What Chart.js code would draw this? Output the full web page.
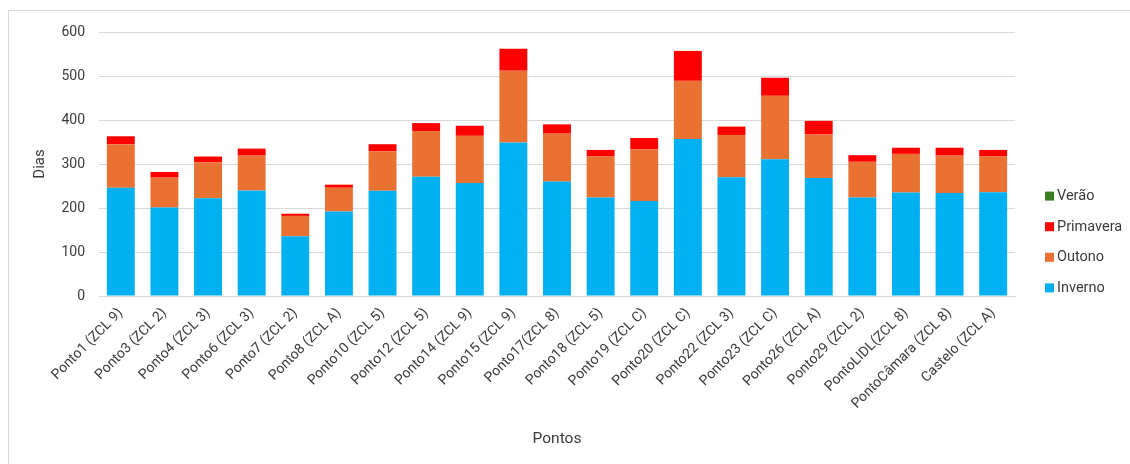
<!DOCTYPE html>
<html lang="pt">
<head>
<meta charset="utf-8">
<title>Dias por estação</title>
<script src="https://cdn.jsdelivr.net/npm/chart.js@4/dist/chart.umd.min.js"></script>
<style>
  html, body { margin: 0; padding: 0; background: #ffffff; overflow: hidden; }
  #wrap { position: relative; width: 1130px; height: 464px; overflow: hidden; }
  #frame { position: absolute; left: 8px; top: 10px; width: 1400px; height: 700px;
           border: 1px solid #d9d9d9; box-sizing: border-box; }
  #chart { position: absolute; left: 0; top: 0; }
</style>
</head>
<body>
<div id="wrap">
  <div id="frame"></div>
  <canvas id="chart" width="1130" height="464"></canvas>
</div>
<script>
// Pontos de medição
const pontos = [
  'Ponto1 (ZCL 9)', 'Ponto3 (ZCL 2)', 'Ponto4 (ZCL 3)', 'Ponto6 (ZCL 3)', 'Ponto7 (ZCL 2)',
  'Ponto8 (ZCL A)', 'Ponto10 (ZCL 5)', 'Ponto12 (ZCL 5)', 'Ponto14 (ZCL 9)', 'Ponto15 (ZCL 9)',
  'Ponto17(ZCL 8)', 'Ponto18 (ZCL 5)', 'Ponto19 (ZCL C)', 'Ponto20 (ZCL C)', 'Ponto22 (ZCL 3)',
  'Ponto23 (ZCL C)', 'Ponto26 (ZCL A)', 'Ponto29 (ZCL 2)', 'PontoLIDL(ZCL 8)', 'PontoCâmara (ZCL 8)',
  'Castelo (ZCL A)'
];

// Dias por estação do ano
const inverno   = [246, 201, 222, 240, 136, 192, 239, 271, 257, 349, 260, 224, 216, 357, 270, 311, 268, 224, 235, 234, 236];
const outono    = [ 99,  68,  82,  79,  46,  54,  90, 104, 107, 163, 109,  93, 117, 132,  96, 144,  99,  81,  88,  85,  81];
const primavera = [ 18,  13,  13,  16,   5,   7,  16,  18,  23,  50,  21,  15,  26,  68,  19,  41,  31,  15,  14,  18,  15];
const verao     = [  0,   0,   0,   0,   0,   0,   0,   0,   0,   0,   0,   0,   0,   0,   0,   0,   0,   0,   0,   0,   0];

const yTicks = [0, 100, 200, 300, 400, 500, 600];

const FONT = 'Roboto, "Liberation Sans", Arial, sans-serif';
const TEXT = '#3b3b3b';

// Legenda à direita, em ordem inversa à do empilhamento
const sideLegend = {
  id: 'sideLegend',
  afterDraw(chart) {
    const ctx = chart.ctx;
    const items = chart.data.datasets.slice().reverse();
    const x = chart.chartArea.right + 30;
    const step = 30.6;
    const y0 = 242 - step * (items.length - 1) / 2;
    ctx.save();
    ctx.font = '14.5px ' + FONT;
    ctx.textBaseline = 'middle';
    ctx.textAlign = 'left';
    items.forEach((ds, i) => {
      const y = y0 + i * step;
      ctx.fillStyle = ds.backgroundColor;
      ctx.fillRect(x, y - 4.5, 9, 9);
      ctx.fillStyle = TEXT;
      ctx.fillText(ds.label, x + 12, y + 0.5);
    });
    ctx.restore();
  }
};

new Chart(document.getElementById('chart'), {
  type: 'bar',
  data: {
    labels: pontos,
    datasets: [
      { label: 'Inverno',   data: inverno,   backgroundColor: '#00b0f0' },
      { label: 'Outono',    data: outono,    backgroundColor: '#e97132' },
      { label: 'Primavera', data: primavera, backgroundColor: '#ff0000' },
      { label: 'Verão',     data: verao,     backgroundColor: '#3b7d23' }
    ]
  },
  options: {
    responsive: false,
    animation: false,
    devicePixelRatio: 1,
    layout: { padding: { left: 24, right: 115, top: 32, bottom: 12 } },
    datasets: { bar: { categoryPercentage: 1, barPercentage: 0.64, borderWidth: 0 } },
    plugins: {
      legend: { display: false },
      tooltip: { enabled: false }
    },
    scales: {
      x: {
        stacked: true,
        grid: { display: false },
        border: { display: true, color: '#d9d9d9' },
        ticks: {
          color: TEXT, font: { family: FONT, size: 14 },
          minRotation: 45, maxRotation: 45, autoSkip: false, padding: 1
        },
        title: {
          display: true, text: 'Pontos', color: TEXT,
          font: { family: FONT, size: 15.5 }, padding: { top: 4, bottom: 4 }
        },
        afterFit(scale) { scale.height = 156; }
      },
      y: {
        stacked: true,
        min: 0, max: 600,
        afterBuildTicks(scale) { scale.ticks = yTicks.map(v => ({ value: v })); },
        grid: { color: '#d9d9d9', drawTicks: false, lineWidth: 1 },
        border: { display: false },
        ticks: { color: TEXT, font: { family: FONT, size: 14 }, padding: 14 },
        title: {
          display: true, text: 'Dias', color: TEXT,
          font: { family: FONT, size: 15 }, padding: { top: 7, bottom: 4 }
        },
        afterFit(scale) { scale.width = 75; }
      }
    }
  },
  plugins: [sideLegend]
});
</script>
</body>
</html>
